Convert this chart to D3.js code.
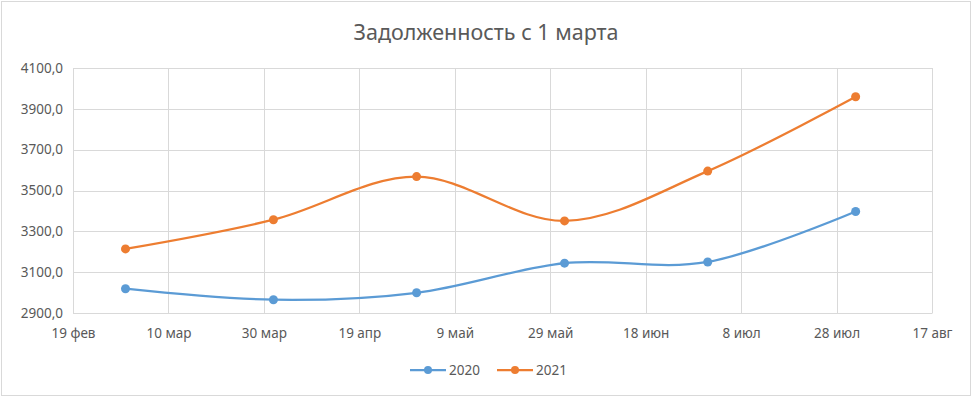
<!DOCTYPE html>
<html>
<head>
<meta charset="utf-8">
<script src="https://cdn.jsdelivr.net/npm/d3@7/dist/d3.min.js"></script>
<style>
  body { margin: 0; background: #fff; }
  text { font-family: "Noto Sans", "Open Sans", sans-serif; fill: #595959; }
</style>
</head>
<body>
<svg id="chart" width="974" height="398"></svg>
<script>
// dates of the observations (2020 calendar used for the axis, as in the sheet)
var dates = ['2020-03-01', '2020-04-01', '2020-05-01', '2020-06-01', '2020-07-01', '2020-08-01'];
var values2020 = [3019, 2965, 2999, 3144, 3150, 3397];
var values2021 = [3214, 3357, 3568, 3351, 3595, 3959];
var seriesNames = ['2020', '2021'];
var seriesColors = ['#5b9bd5', '#ed7d31'];
var yTicks = [2900, 3100, 3300, 3500, 3700, 3900, 4100];
var monthsShort = ['янв', 'фев', 'мар', 'апр', 'май', 'июн', 'июл', 'авг', 'сен', 'окт', 'ноя', 'дек'];

var svg = d3.select('#chart');
var margin = {left: 73, right: 42, top: 68, bottom: 85};
var width = 974 - margin.left - margin.right;
var height = 398 - margin.top - margin.bottom;

var parse = d3.timeParse('%Y-%m-%d');
var start = parse('2020-02-19');
var xTicks = d3.range(0, 10).map(function(i) { return d3.timeDay.offset(start, i * 20); });

var x = d3.scaleTime().domain([start, xTicks[xTicks.length - 1]]).range([0, width]);
var y = d3.scaleLinear().domain([2900, 4100]).range([height, 0]);

// chart border
svg.append('rect')
    .attr('x', 1.5).attr('y', 1.5)
    .attr('width', 969).attr('height', 394)
    .attr('fill', 'none').attr('stroke', '#d9d9d9');

svg.append('text')
    .attr('x', 486).attr('y', 40)
    .attr('text-anchor', 'middle')
    .style('font-size', '21.5px')
    .text('Задолженность с 1 марта');

var g = svg.append('g').attr('transform', 'translate(' + margin.left + ',' + margin.top + ')');

// grid
g.selectAll('.hgrid').data(yTicks).enter().append('line')
    .attr('class', 'hgrid')
    .attr('x1', 0).attr('x2', width)
    .attr('y1', function(d) { return Math.round(y(d)) + 0.5; })
    .attr('y2', function(d) { return Math.round(y(d)) + 0.5; })
    .attr('stroke', '#d9d9d9');
g.selectAll('.vgrid').data(xTicks).enter().append('line')
    .attr('class', 'vgrid')
    .attr('y1', 0).attr('y2', height)
    .attr('x1', function(d) { return Math.round(x(d)) + 0.5; })
    .attr('x2', function(d) { return Math.round(x(d)) + 0.5; })
    .attr('stroke', '#d9d9d9');

var yAxis = d3.axisLeft(y).tickValues(yTicks).tickSize(0).tickPadding(10)
    .tickFormat(function(d) { return d3.format('.1f')(d).replace('.', ','); });
g.append('g').call(yAxis)
    .call(function(s) { s.select('.domain').remove(); })
    .selectAll('text').style('font-size', '13.5px').attr('fill', '#595959');

var xAxis = d3.axisBottom(x).tickValues(xTicks).tickSize(0).tickPadding(15)
    .tickFormat(function(d) { return d.getDate() + ' ' + monthsShort[d.getMonth()]; });
g.append('g').attr('transform', 'translate(0,' + height + ')').call(xAxis)
    .call(function(s) { s.select('.domain').attr('stroke', '#d9d9d9'); })
    .selectAll('text').style('font-size', '13.5px').attr('fill', '#595959');

var series = [values2020, values2021].map(function(vals, i) {
    return {
        name: seriesNames[i],
        color: seriesColors[i],
        points: vals.map(function(v, j) { return {date: parse(dates[j]), value: v}; })
    };
});

var line = d3.line()
    .x(function(d) { return x(d.date); })
    .y(function(d) { return y(d.value); })
    .curve(d3.curveCatmullRom.alpha(0));

series.forEach(function(s) {
    g.append('path').datum(s.points)
        .attr('d', line)
        .attr('fill', 'none')
        .attr('stroke', s.color)
        .attr('stroke-width', 2.25);
    g.selectAll(null).data(s.points).enter().append('circle')
        .attr('cx', function(d) { return x(d.date); })
        .attr('cy', function(d) { return y(d.value); })
        .attr('r', 4.5)
        .attr('fill', s.color);
});

// legend
var legend = svg.append('g').attr('transform', 'translate(410,370)');
series.forEach(function(s, i) {
    var lg = legend.append('g').attr('transform', 'translate(' + (i * 87) + ',0)');
    lg.append('line').attr('x1', 0).attr('x2', 36).attr('y1', 0).attr('y2', 0)
        .attr('stroke', s.color).attr('stroke-width', 2.25);
    lg.append('circle').attr('cx', 18).attr('cy', 0).attr('r', 4).attr('fill', s.color);
    lg.append('text').attr('x', 39).attr('y', 5).style('font-size', '13.5px').text(s.name);
});
</script>
</body>
</html>
